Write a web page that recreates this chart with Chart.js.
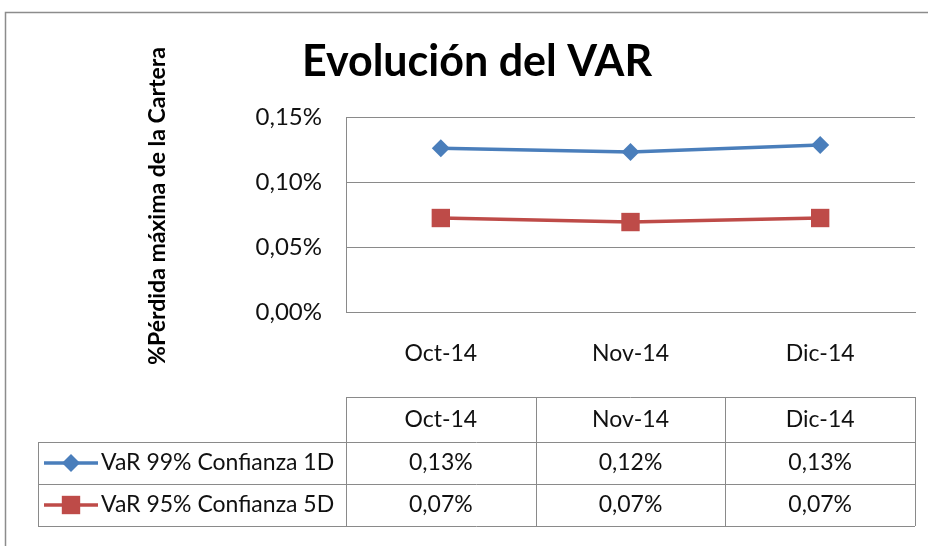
<!DOCTYPE html>
<html>
<head>
<meta charset="utf-8">
<script src="https://cdn.jsdelivr.net/npm/chart.js@4.4.0/dist/chart.umd.min.js"></script>
<style>
  html, body { margin: 0; padding: 0; background: #fff; }
  #wrap { width: 928px; height: 546px; }
</style>
</head>
<body>
<div id="wrap"><canvas id="c" width="928" height="546"></canvas></div>
<script>
// values in percent
var months = ['Oct-14', 'Nov-14', 'Dic-14'];
var var99 = [0.126, 0.123, 0.1285];
var var95 = [0.0723, 0.0692, 0.0723];
var seriesNames = ['VaR 99% Confianza 1D', 'VaR 95% Confianza 5D'];
var seriesColors = ['#4a7ebb', '#be4b48'];
var chartTitle = 'Evolución del VAR';
var yTitle = '%Pérdida máxima de la Cartera';

var GRID = '#8a8a8a';
var FONT = 'Lato';

function pct(v) {
  return v.toFixed(2).replace('.', ',') + '%';
}

function drawMarker(ctx, style, x, y, r, color) {
  ctx.save();
  ctx.fillStyle = color;
  ctx.beginPath();
  if (style === 'rectRot') {
    ctx.moveTo(x, y - r);
    ctx.lineTo(x + r, y);
    ctx.lineTo(x, y + r);
    ctx.lineTo(x - r, y);
  } else {
    var h = r * Math.SQRT1_2;
    ctx.rect(x - h, y - h, h * 2, h * 2);
  }
  ctx.closePath();
  ctx.fill();
  ctx.restore();
}

// frame, title, axis title and the data table under the plot
var decorPlugin = {
  id: 'decor',
  afterDraw: function (chart) {
    var ctx = chart.ctx;
    var xs = chart.scales.x;
    ctx.save();

    ctx.strokeStyle = '#8c8c8c';
    ctx.lineWidth = 1.5;
    ctx.beginPath();
    ctx.moveTo(5.5, 560);
    ctx.lineTo(5.5, 12.5);
    ctx.lineTo(940, 12.5);
    ctx.stroke();

    ctx.fillStyle = '#000';
    ctx.textAlign = 'center';
    ctx.textBaseline = 'middle';
    ctx.font = 'bold 43px ' + FONT;
    ctx.fillText(chartTitle, 477, 62);

    ctx.save();
    ctx.translate(158, 206);
    ctx.rotate(-Math.PI / 2);
    ctx.font = 'bold 23px ' + FONT;
    ctx.fillText(yTitle, 0, 0);
    ctx.restore();

    // table grid
    var left = chart.chartArea.left;
    var right = chart.chartArea.right;
    var rowY = [397, 442, 484, 526];
    var legLeft = 38;
    ctx.strokeStyle = GRID;
    ctx.lineWidth = 1;
    ctx.beginPath();
    ctx.moveTo(left, rowY[0] + 0.5);
    ctx.lineTo(right, rowY[0] + 0.5);
    for (var r = 1; r < rowY.length; r++) {
      ctx.moveTo(legLeft, rowY[r] + 0.5);
      ctx.lineTo(right, rowY[r] + 0.5);
    }
    ctx.moveTo(legLeft + 0.5, rowY[1]);
    ctx.lineTo(legLeft + 0.5, rowY[3]);
    var step = (right - left) / months.length;
    for (var k = 0; k <= months.length; k++) {
      var gx = Math.round(left + step * k) + 0.5;
      ctx.moveTo(gx, rowY[0]);
      ctx.lineTo(gx, rowY[3]);
    }
    ctx.stroke();

    ctx.fillStyle = '#111';
    ctx.font = '23px ' + FONT;
    ctx.textAlign = 'center';
    var rows = [var99, var95];
    for (var i = 0; i < months.length; i++) {
      var cx = xs.getPixelForValue(i);
      ctx.fillText(months[i], cx, (rowY[0] + rowY[1]) / 2);
      for (var s = 0; s < rows.length; s++) {
        ctx.fillText(pct(rows[s][i]), cx, (rowY[s + 1] + rowY[s + 2]) / 2);
      }
    }

    // legend keys
    var styles = ['rectRot', 'rect'];
    var radii = [9, 13];
    for (var j = 0; j < seriesNames.length; j++) {
      var ly = (rowY[j + 1] + rowY[j + 2]) / 2;
      ctx.strokeStyle = seriesColors[j];
      ctx.lineWidth = 3.5;
      ctx.beginPath();
      ctx.moveTo(44, ly);
      ctx.lineTo(98, ly);
      ctx.stroke();
      drawMarker(ctx, styles[j], 71, ly, radii[j], seriesColors[j]);
      ctx.fillStyle = '#111';
      ctx.textAlign = 'left';
      ctx.fillText(seriesNames[j], 101, ly);
    }
    ctx.restore();
  }
};

new Chart(document.getElementById('c'), {
  type: 'line',
  data: {
    labels: months,
    datasets: [
      {
        label: seriesNames[0],
        data: var99,
        borderColor: seriesColors[0],
        backgroundColor: seriesColors[0],
        borderWidth: 3.5,
        pointStyle: 'rectRot',
        pointRadius: 9,
        pointBorderWidth: 0,
        tension: 0,
      },
      {
        label: seriesNames[1],
        data: var95,
        borderColor: seriesColors[1],
        backgroundColor: seriesColors[1],
        borderWidth: 3.5,
        pointStyle: 'rect',
        pointRadius: 13,
        pointBorderWidth: 0,
        tension: 0,
      },
    ],
  },
  options: {
    responsive: false,
    animation: false,
    layout: { padding: { left: 0, right: 12, top: 117, bottom: 174 } },
    plugins: { legend: { display: false }, title: { display: false }, tooltip: { enabled: false } },
    scales: {
      x: {
        offset: true,
        grid: { display: false, drawTicks: false },
        border: { display: true, color: GRID, width: 1 },
        ticks: { color: '#111', padding: 28, font: { family: FONT, size: 23 } },
        afterFit: function (scale) { scale.height = 60; },
      },
      y: {
        min: 0,
        max: 0.15,
        grid: { color: GRID, drawTicks: false, lineWidth: 1 },
        border: { display: true, color: GRID, width: 1 },
        ticks: {
          stepSize: 0.05,
          color: '#111',
          padding: 24,
          font: { family: FONT, size: 24 },
          callback: function (v) { return pct(v); },
        },
        afterFit: function (scale) { scale.width = 346; },
      },
    },
  },
  plugins: [decorPlugin],
});
</script>
</body>
</html>
